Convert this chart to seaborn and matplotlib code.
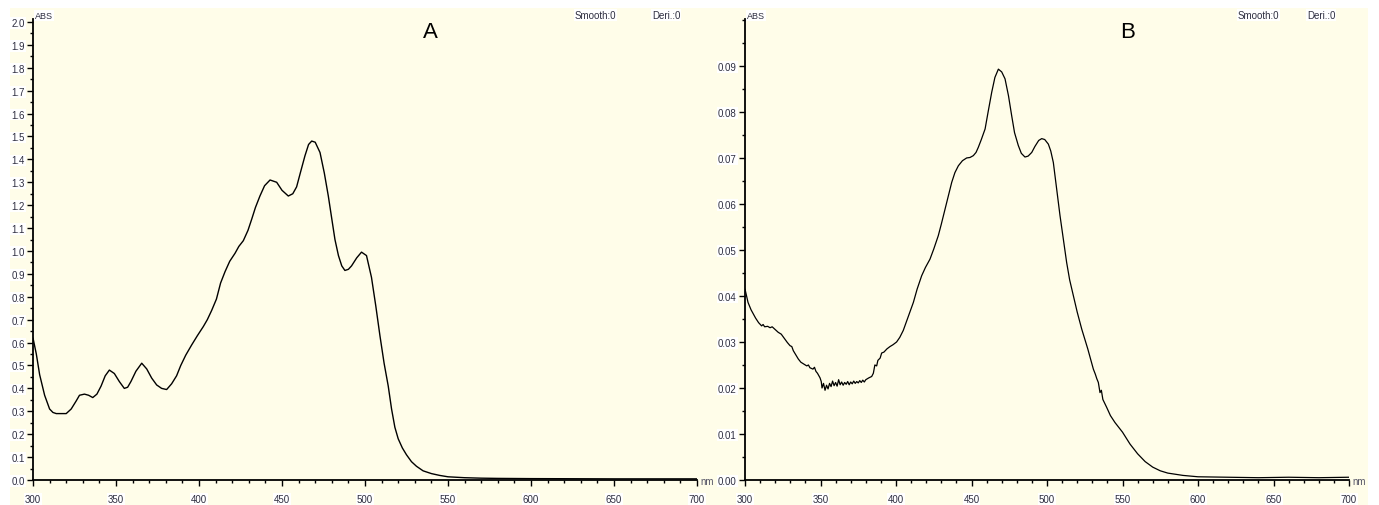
import numpy as np
import pandas as pd
import matplotlib
matplotlib.use('Agg')
import matplotlib.pyplot as plt
import seaborn as sns
from matplotlib.ticker import MultipleLocator, FixedLocator
from matplotlib.patches import Rectangle

# spectrum A (wavelength nm, absorbance)
wl_a = [300, 302, 304, 307, 310, 312, 314, 317, 320, 323, 326, 328, 331, 333.5, 336, 338.5,
        341, 343.5, 346, 349, 352, 355, 357, 359, 362, 365.5, 368.5, 371.5, 374.5, 377.5,
        380.5, 383.5, 386.5, 389, 392, 395.6, 399, 402.6, 405, 407.6, 410.5, 413, 415.7,
        418.5, 421.7, 424, 426.7, 429.5, 431.8, 434, 436.7, 439.5, 442.8, 446.8, 450, 453.8,
        456.5, 458.8, 461, 463.8, 466, 467.9, 470, 472.9, 475.5, 477.9, 480, 481.9, 484, 486,
        487.9, 490, 491.9, 495, 497.9, 500.9, 503.9, 506.5, 509, 511.5, 514, 516, 518, 520,
        522.5, 525, 528, 531, 535, 540, 545, 550, 560, 570, 580, 600, 650, 700]
abs_a = [0.62, 0.55, 0.46, 0.37, 0.31, 0.295, 0.29, 0.29, 0.29, 0.31, 0.345, 0.37, 0.375, 0.37,
         0.36, 0.375, 0.41, 0.455, 0.48, 0.465, 0.43, 0.40, 0.405, 0.43, 0.475, 0.51, 0.485,
         0.445, 0.415, 0.40, 0.395, 0.42, 0.455, 0.50, 0.545, 0.59, 0.63, 0.67, 0.70, 0.74,
         0.79, 0.86, 0.91, 0.955, 0.99, 1.02, 1.045, 1.09, 1.14, 1.19, 1.24, 1.285, 1.31, 1.30,
         1.265, 1.24, 1.25, 1.28, 1.34, 1.415, 1.465, 1.48, 1.475, 1.43, 1.34, 1.24, 1.14, 1.05,
         0.98, 0.935, 0.915, 0.92, 0.935, 0.97, 0.995, 0.98, 0.885, 0.76, 0.63, 0.51, 0.41,
         0.31, 0.23, 0.18, 0.14, 0.11, 0.08, 0.06, 0.04, 0.028, 0.02, 0.014, 0.01, 0.008,
         0.007, 0.006, 0.005, 0.005]

# spectrum B
wl_b = [300, 301, 302, 304, 305.5, 307, 309, 311, 312, 313, 315, 316.6, 318, 320, 322, 324, 326,
        328, 329.8, 331, 332, 334, 335.3, 337, 339, 340.9, 342, 343, 345, 346, 347, 348, 349.7,
        350.5, 351, 352, 353, 354, 355, 356, 357, 358, 359, 360, 361, 362, 363, 364, 365, 366,
        367, 368, 369, 370, 371, 372, 373, 374, 375, 376, 377, 378, 379, 380, 382, 383.9, 385,
        386, 387.2, 388, 389.5, 390.5, 392, 394, 396, 398, 400.4, 402.5, 404.8, 407, 409, 411.5,
        414, 417, 419.5, 422.5, 425, 428, 430, 432.5, 435, 436.9, 439, 441.3, 444, 446.8, 449,
        451.2, 453, 454.5, 456.5, 459, 461, 463.4, 465.5, 467.8, 470, 472.2, 474.5, 476.6,
        478.5, 481, 483, 485.4, 487.5, 489.9, 492, 494.5, 496.5, 498.5, 500.9, 502.5, 504.2,
        506.5, 508.6, 511, 513, 515, 517.4, 520, 523, 527, 530.7, 532, 533, 534, 535.1, 536,
        537, 539.5, 542, 545, 550, 555, 560, 565, 570, 575, 580, 590, 600, 620, 640, 660, 680,
        700]
abs_b = [0.0415, 0.0400, 0.0386, 0.0370, 0.0361, 0.0352, 0.0342, 0.0335, 0.0338, 0.0333, 0.0334,
         0.0331, 0.0333, 0.0327, 0.0321, 0.0317, 0.0308, 0.0299, 0.0292, 0.0290, 0.0281, 0.0270,
         0.0263, 0.0256, 0.0252, 0.0248, 0.0250, 0.0244, 0.0241, 0.0245, 0.0236, 0.0232, 0.0222,
         0.0214, 0.0200, 0.0210, 0.0195, 0.0206, 0.0198, 0.0210, 0.0203, 0.0215, 0.0205, 0.0212,
         0.0204, 0.0218, 0.0207, 0.0213, 0.0206, 0.0212, 0.0208, 0.0214, 0.0207, 0.0213, 0.0209,
         0.0215, 0.0210, 0.0214, 0.0211, 0.0216, 0.0212, 0.0217, 0.0213, 0.0218, 0.0222, 0.0225,
         0.0232, 0.0250, 0.0248, 0.0260, 0.0265, 0.0276, 0.0278, 0.0285, 0.0290, 0.0294, 0.0300,
         0.0310, 0.0325, 0.0345, 0.0363, 0.0386, 0.0415, 0.0444, 0.0462, 0.0480, 0.0502, 0.0531,
         0.0556, 0.0589, 0.0622, 0.0647, 0.0668, 0.0683, 0.0694, 0.0700, 0.0701, 0.0705, 0.0712,
         0.0723, 0.0740, 0.0763, 0.0800, 0.0843, 0.0875, 0.0893, 0.0887, 0.0872, 0.0835, 0.0792,
         0.0755, 0.0727, 0.0710, 0.0702, 0.0704, 0.0712, 0.0725, 0.0738, 0.0742, 0.0740, 0.0730,
         0.0715, 0.0690, 0.0630, 0.0575, 0.0520, 0.0473, 0.0435, 0.0401, 0.0365, 0.0328, 0.0285,
         0.0241, 0.0230, 0.0220, 0.0212, 0.0190, 0.0195, 0.0175, 0.0158, 0.0140, 0.0125, 0.0104,
         0.0078, 0.0057, 0.0040, 0.0028, 0.0020, 0.0015, 0.0010, 0.0007, 0.0006, 0.0005, 0.0006,
         0.0005, 0.0006]

cream = '#fffde9'
sns.set_style('white')
plt.rcParams['font.family'] = ['Liberation Sans', 'DejaVu Sans']

fig = plt.figure(figsize=(13.79, 5.06), dpi=100)
fig.patch.set_facecolor('white')
fig.patches.append(Rectangle((10 / 1379, 0), 1358 / 1379, 497 / 506, transform=fig.transFigure,
                             facecolor=cream, edgecolor='none', zorder=-10))

ax_a = fig.add_axes([33 / 1379, 25 / 506, 664 / 1379, 461 / 506])
ax_b = fig.add_axes([745 / 1379, 25 / 506, 604 / 1379, 461 / 506])

df_a = pd.DataFrame({'nm': wl_a, 'abs': abs_a})
df_b = pd.DataFrame({'nm': wl_b, 'abs': abs_b})
sns.lineplot(data=df_a, x='nm', y='abs', ax=ax_a, color='black', lw=1.0, estimator=None)
sns.lineplot(data=df_b, x='nm', y='abs', ax=ax_b, color='black', lw=0.9, estimator=None)

txt_color = '#2e2e40'
tick_kw = dict(fontsize=7, color=txt_color)
box = dict(facecolor='white', edgecolor='none', pad=0.6)

for ax, ymax, ymaj, ymin, fmt, letter in [
        (ax_a, 2.013, np.round(np.arange(0, 2.01, 0.1), 2), 0.05, '{:.1f}', 'A'),
        (ax_b, 0.1002, np.round(np.arange(0, 0.091, 0.01), 3), 0.005, '{:.2f}', 'B')]:
    ax.set_facecolor('none')
    ax.set_xlim(300, 700)
    ax.set_ylim(0, ymax)
    ax.xaxis.set_major_locator(MultipleLocator(50))
    ax.xaxis.set_minor_locator(MultipleLocator(10))
    ax.yaxis.set_major_locator(FixedLocator(ymaj))
    ax.yaxis.set_minor_locator(MultipleLocator(ymin))
    ax.set_yticklabels([fmt.format(v) for v in ymaj], **tick_kw)
    ax.set_xticklabels([str(int(v)) for v in ax.get_xticks()], **tick_kw)
    ax.tick_params(which='major', direction='out', length=4, width=1, color='black', pad=2)
    ax.tick_params(which='minor', direction='out', length=2.5, width=1, color='black')
    ax.tick_params(axis='both', which='both', bottom=True, left=True)
    ax.tick_params(axis='x', pad=6)
    for s in ['top', 'right']:
        ax.spines[s].set_visible(False)
    for s in ['left', 'bottom']:
        ax.spines[s].set_color('black')
        ax.spines[s].set_linewidth(1.3)
    ax.set_xlabel('')
    ax.set_ylabel('')
    for lbl in ax.get_yticklabels() + ax.get_xticklabels():
        lbl.set_bbox(box)

    ax.text(1.005, -0.003, 'nm', transform=ax.transAxes, fontsize=7, color='#555566',
            ha='left', va='center')
    ax.text(0.003, 1.007, 'ABS', transform=ax.transAxes, fontsize=6.5, color=txt_color,
            ha='left', va='center', bbox=box)

# header labels
fig.text(575 / 1379, 1 - 16 / 506, 'Smooth:0', fontsize=7, color=txt_color, va='center', bbox=box)
fig.text(652 / 1379, 1 - 16 / 506, 'Deri.:0', fontsize=7, color=txt_color, va='center', bbox=box)
fig.text(1238 / 1379, 1 - 16 / 506, 'Smooth:0', fontsize=7, color=txt_color, va='center', bbox=box)
fig.text(1307 / 1379, 1 - 16 / 506, 'Deri.:0', fontsize=7, color=txt_color, va='center', bbox=box)
fig.text(430 / 1379, 1 - 33 / 506, 'A', fontsize=16, color='black', ha='center', va='center')
fig.text(1128 / 1379, 1 - 33 / 506, 'B', fontsize=16, color='black', ha='center', va='center')

fig.savefig('out.png', dpi=100, facecolor=fig.get_facecolor())
